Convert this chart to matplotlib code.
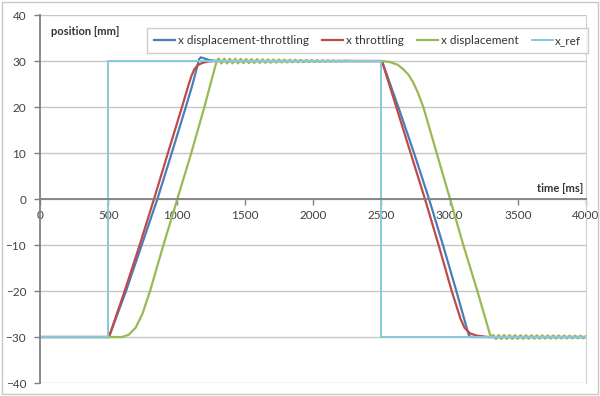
import matplotlib
matplotlib.use("Agg")
import matplotlib.pyplot as plt

plt.rcParams['font.family'] = ['Lato', 'DejaVu Sans']

# ---- data ----
ref_t = [0, 500, 500, 2500, 2500, 4000]
ref_y = [-30, -30, 30, 30, -30, -30]

blue_t = [0, 505, 630, 745, 860, 965, 1068, 1118, 1150, 1165, 1178, 1200, 1240, 1300,
          2505, 2625, 2740, 2850, 2952, 3050, 3140, 3155, 4000]
blue_y = [-30, -30, -20, -10, 0, 10, 20, 25, 28.6, 30.4, 30.8, 30.6, 30.2, 30.0,
          30.0, 20, 10, 0, -10, -20, -29.5, -30, -30]

red_t = [0, 505, 620, 730, 835, 937, 1040, 1090, 1110, 1130, 1155, 1190, 1230, 1280,
         2505, 2610, 2715, 2820, 2920, 3016, 3080, 3110, 3150, 3200, 3280, 4000]
red_y = [-30, -30, -20, -10, 0, 10, 20, 25, 26.8, 28.2, 29.1, 29.6, 29.9, 30.0,
         30.0, 20, 10, 0, -10, -20, -26, -28, -29.2, -29.7, -30, -30]

green_t = [0, 600, 650, 700, 750, 806, 904, 1006, 1108, 1204, 1294,
           1310, 1330, 1350, 1370, 1390, 1410, 1430, 1450, 1470, 1490,
           1510, 1530, 1550, 1570, 1590, 1610, 1630, 1650, 1670, 1690,
           1710, 1730, 1750, 1770, 1790, 1810, 1830, 1850, 1870, 1890,
           1910, 1930, 1950, 1970, 1990, 2010, 2030, 2050, 2070, 2090,
           2110, 2130, 2150, 2170, 2190, 2210, 2230, 2300,
           2500, 2560, 2620, 2662, 2700, 2735, 2770, 2808, 2906, 3004, 3101, 3204, 3302,
           3320, 3340, 3360, 3380, 3400, 3420, 3440, 3460, 3480, 3500,
           3520, 3540, 3560, 3580, 3600, 3620, 3640, 3660, 3680, 3700,
           3720, 3740, 3760, 3780, 3800, 3820, 3840, 3860, 3880, 3900,
           3920, 3940, 3960, 3980, 4000]
green_y = [-30, -30, -29.5, -28, -25, -20, -10, 0, 10, 20, 30,
           30.55, 29.46, 30.53, 29.48, 30.51, 29.50, 30.49, 29.52, 30.47, 29.54,
           30.45, 29.56, 30.43, 29.58, 30.41, 29.60, 30.39, 29.62, 30.37, 29.64,
           30.35, 29.66, 30.33, 29.68, 30.31, 29.70, 30.29, 29.72, 30.27, 29.74,
           30.25, 29.76, 30.23, 29.78, 30.21, 29.80, 30.19, 29.82, 30.17, 29.84,
           30.15, 29.86, 30.13, 29.88, 30.11, 29.90, 30.09, 30.0,
           30.0, 29.8, 29.2, 28.2, 27.0, 25.3, 23.0, 20, 10, 0, -10, -20, -30,
           -29.55, -30.45, -29.56, -30.44, -29.57, -30.43, -29.58, -30.42, -29.59, -30.41,
           -29.60, -30.40, -29.61, -30.39, -29.62, -30.38, -29.63, -30.37, -29.64, -30.36,
           -29.65, -30.35, -29.66, -30.34, -29.67, -30.33, -29.68, -30.32, -29.69, -30.31,
           -29.70, -30.30, -29.71, -30.29, -29.80]

labels = ["x displacement-throttling", "x throttling", "x displacement", "x_ref"]
x_ticks = [0, 500, 1000, 1500, 2000, 2500, 3000, 3500, 4000]
y_ticks = [-40, -30, -20, -10, 0, 10, 20, 30, 40]

# ---- figure ----
fig = plt.figure(figsize=(6.0, 3.96), dpi=100)
fig.patch.set_facecolor('white')
# outer frame
fig.patches.append(plt.Rectangle((0.004, 0.004), 0.992, 0.99, transform=fig.transFigure,
                                 fill=False, edgecolor='#c8c8c8', linewidth=1.0))

ax = fig.add_axes([0.0667, 0.0328, 0.91, 0.9292])
ax.set_xlim(0, 4000)
ax.set_ylim(-40, 40)

ax.plot(blue_t, blue_y, color='#4a7ebb', lw=1.6, label=labels[0])
ax.plot(red_t, red_y, color='#be4b48', lw=1.6, label=labels[1])
ax.plot(green_t, green_y, color='#98b954', lw=1.6, label=labels[2])
ax.plot(ref_t, ref_y, color='#86c8dc', lw=1.4, label=labels[3])

ax.set_yticks(y_ticks)
ax.set_xticks(x_ticks)
ax.yaxis.grid(True, color='#c6c6c6', lw=1.0)
ax.set_axisbelow(True)

ax.spines['top'].set_visible(False)
ax.spines['right'].set_color('#d0d0d0')
ax.spines['left'].set_color('#808080')
ax.spines['left'].set_linewidth(1.3)
ax.spines['bottom'].set_position(('data', 0))
ax.spines['bottom'].set_color('#808080')
ax.spines['bottom'].set_linewidth(1.3)

ax.tick_params(axis='y', direction='out', length=4, width=1, color='#808080',
               labelsize=8.5, labelcolor='#404040', pad=6)
ax.tick_params(axis='x', direction='out', length=4, width=1, color='#808080',
               labelsize=8.5, labelcolor='#404040', pad=4)

ax.text(0.02, 0.97, "position [mm]", transform=ax.transAxes, fontsize=8,
        fontweight='bold', color='#333333', va='top', ha='left')
ax.text(0.995, 0.515, "time [ms]", transform=ax.transAxes, fontsize=8,
        fontweight='bold', color='#333333', va='bottom', ha='right')

leg = ax.legend(loc='lower left', bbox_to_anchor=(0.196, 0.897, 0.808, 0.081),
                mode='expand', ncol=4, fontsize=8.5, frameon=True, fancybox=False,
                edgecolor='#c0c0c0', handlelength=1.8, handletextpad=0.2,
                borderaxespad=0, borderpad=0.6)
leg.get_frame().set_linewidth(1.0)
for t in leg.get_texts():
    t.set_color('#333333')

fig.savefig("out.png", dpi=100)
